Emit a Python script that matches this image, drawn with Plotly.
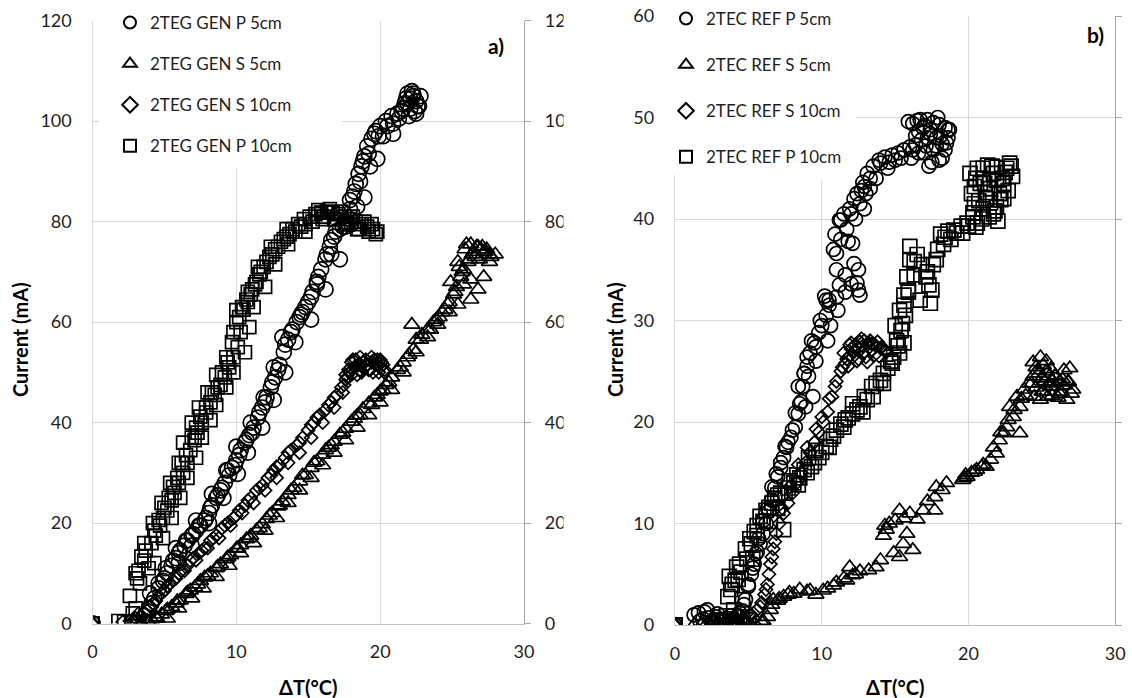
import plotly.graph_objects as go

# ---------- panel a) : 2TEG GEN ----------
a_p5_x = [0, 0, 3.2, 3.6, 3.9, 4.3, 4.6, 4.9, 5.2, 5.5, 5.8, 6.1, 6.4, 6.6, 6.9, 7.2, 7.5, 7.8, 8.1, 8.3,
          8.6, 8.9, 9.2, 9.5, 9.7, 10.0, 10.3, 10.6, 10.9, 11.2, 11.5, 11.8, 12.1, 12.4, 12.7, 13.0, 13.3,
          13.6, 13.9, 14.2, 14.6, 15.0, 15.3, 15.6, 15.9, 16.2, 16.5, 16.8, 17.2, 17.6, 17.9, 18.1, 18.3,
          18.5, 18.7, 18.9, 19.1, 19.4, 19.7, 20.0, 20.4, 20.8, 21.2, 21.6, 21.9, 22.1, 22.3, 22.5, 22.2,
          21.8, 22.6, 22.4, 22.0, 21.7,
          22.3, 21.9, 22.7, 22.5, 21.5, 22.8, 22.1, 21.3, 20.9, 20.5, 19.9, 19.6, 19.2, 18.8, 18.6, 18.2,
          17.9, 17.4, 16.9, 16.6, 16.3, 15.7, 15.2, 14.8, 14.4, 13.8, 13.4, 12.9, 12.5, 12.0, 11.6, 11.1,
          10.7, 10.2, 9.9, 9.4, 9.0, 8.7, 8.2, 7.9, 7.4, 7.0, 6.5, 6.0, 5.6, 5.1, 4.6, 4.1,
          4.0, 5.0, 6.0, 5.8, 6.9, 7.2, 8.1, 8.3, 9.1, 9.3, 10.1, 10.0, 10.8, 11.0, 11.8, 11.9, 12.6,
          12.6, 13.4, 13.2, 14.1, 14.5, 15.2, 15.6, 16.2, 16.6, 17.2, 17.6, 18.0, 18.4, 18.9, 19.3,
          19.8, 20.2, 20.9]
a_p5_y = [0, 0, 0.3, 1.5, 3, 5, 7, 8.5, 10, 11.5, 13, 14.5, 15.5, 16.5, 17.5, 18.5, 19.5, 20.5, 22, 23.5,
          25, 26.5, 28, 29.5, 31, 32.5, 34.5, 36, 37.5, 39, 41, 43, 45, 47, 49, 51.5, 54,
          56.5, 58.5, 60, 62, 64, 66, 68, 70.5, 72.5, 75, 77, 78.5, 80, 82.5, 85, 87.5,
          89.5, 91, 93, 95, 96.5, 98, 99, 100, 101, 101.5, 102.5, 103.5, 104.5, 105.5, 104, 106,
          104.5, 103, 102, 101, 103.5,
          105, 105.5, 103, 101.5, 102, 105, 102.5, 100.5, 99.5, 99, 97, 97.5, 93.5, 92, 88, 86,
          84.3, 79, 78, 76.3, 73.5, 69, 65, 63, 61, 58, 55.5, 50.5, 48, 44, 42, 38,
          36.5, 33.5, 31.5, 30.5, 27, 25.5, 23, 21, 19.5, 17.8, 16.5, 14, 12.5, 11, 8, 4,
          6, 9, 12, 15, 15.5, 20.5, 20, 25.8, 25, 30.5, 29.8, 35.2, 34, 40, 39, 45, 44.5,
          51, 50, 57, 56, 61.5, 60.5, 67.5, 66.5, 73.5, 72.5, 79, 79.5, 83, 84.8, 91,
          92.5, 97, 97.5]

a_s5_x = [0, 0, 3.4, 3.8, 4.1, 4.5, 4.8, 5.1, 5.5, 5.8, 6.1, 6.5, 6.8, 7.1, 7.5, 7.8, 8.2, 8.6, 8.9, 9.3,
          9.6, 10.0, 10.3, 10.7, 11.0, 11.4, 11.8, 12.1, 12.5, 12.9, 13.2, 13.6, 14.0, 14.4, 14.8, 15.2,
          15.6, 16.0, 16.4, 16.8, 17.2, 17.6, 18.0, 18.4, 18.8, 19.2, 19.6, 20.0, 20.4, 20.8, 21.2, 21.6,
          22.0, 22.2, 22.5, 22.9, 23.3, 23.7, 24.1, 24.5, 24.8, 25.1, 25.3, 25.6, 25.8, 26.1, 26.4, 26.7,
          27.0, 27.3, 27.6, 25.4, 25.9, 26.3, 26.8, 27.2, 25.7, 26.2, 24.9,
          26.0, 26.5, 26.9, 27.4, 25.5, 25.2, 26.6, 27.1, 27.7, 26.3, 25.8, 24.7, 24.3, 23.9, 23.5, 22.8,
          22.3, 21.9, 21.4, 20.6, 20.2, 19.8, 19.4, 18.6, 18.2, 17.4, 16.6, 16.2, 15.4, 14.6, 13.8, 13.0,
          12.3, 11.6, 10.9, 10.1, 9.4, 8.7, 8.0, 7.3, 6.6, 5.9, 5.2, 4.4, 3.9,
          5.2, 6.0, 6.9, 7.7, 8.6, 9.5, 10.3, 11.2, 12.0, 12.8, 13.6, 14.4, 15.2, 16.0, 16.8, 17.6,
          18.4, 19.2, 20.0, 20.8, 21.6, 22.5, 23.3, 24.0, 24.8, 25.4, 26.3, 26.8, 27.2, 27.6, 28.0]
a_s5_y = [0, 0, 0, 0.5, 0.8, 1, 1.8, 2.5, 3.3, 4, 4.6, 5.9, 6.6, 7.2, 8.5, 9.2, 10, 11, 11.8, 12.8,
          13.6, 14.9, 15.6, 16.8, 17.5, 18.6, 19.8, 20.8, 22, 23.3, 24.3, 25.6, 27, 28.3, 29.6, 31,
          32.3, 33.6, 35, 36.2, 37.6, 38.8, 40.2, 41.4, 42.7, 43.8, 45, 46.2, 47.5, 49, 50.5, 52,
          53.5, 59.5, 56.5, 57.5, 58.5, 60, 61, 62.5, 64, 65.5, 67, 69, 70.5, 72, 73.5, 75,
          74.5, 74, 73.5, 72, 74.5, 75.5, 75, 74, 70, 72.5, 68,
          75.5, 74, 72.5, 74.5, 71, 66, 73, 75, 73, 68.5, 67.5, 63.5, 62, 60.5, 58.5, 56.5,
          54.5, 53, 51, 48, 46.5, 45.5, 43.5, 41.5, 40.8, 38, 35.5, 34.5, 32, 29.5, 26.5, 23.5,
          21.5, 19, 17, 15, 13.2, 11.3, 9.5, 7.8, 6.2, 4.5, 2.8, 1.2, 0.3,
          1, 3, 5, 7, 9.3, 11.5, 14, 16, 18.5, 21, 24, 26.5, 29, 31.5, 34, 36.5,
          39, 41.5, 44, 46.5, 50, 54, 57, 59.5, 62, 63.5, 64.5, 66.5, 69, 72, 73.5]

a_s10_x = [0, 0, 2.1, 2.6, 3.0, 3.4, 3.8, 4.2, 4.6, 5.0, 5.4, 5.8, 6.2, 6.6, 7.0, 7.4, 7.8, 8.2, 8.6, 9.0,
           9.4, 9.8, 10.2, 10.6, 11.0, 11.4, 11.8, 12.2, 12.6, 13.0, 13.4, 13.8, 14.2, 14.6, 15.0, 15.4,
           15.8, 16.2, 16.6, 17.0, 17.3, 17.6, 17.9, 18.2, 18.5, 18.8, 19.1, 19.4, 19.7, 20.0, 20.3,
           17.8, 18.3, 18.7, 19.2, 19.6, 20.1, 18.0, 18.9, 19.5,
           18.1, 18.6, 19.0, 19.3, 19.8, 20.2, 17.6, 18.4, 19.9, 17.5, 16.8, 16.4, 15.6, 15.2, 14.4,
           13.6, 12.8, 12.4, 11.6, 10.8, 10.0, 9.2, 8.4, 7.6, 6.8, 6.0, 5.2, 4.4, 3.6, 2.8,
           3.2, 4.0, 4.8, 5.6, 6.4, 7.2, 8.0, 8.8, 9.6, 10.4, 11.2, 12.0, 12.8, 13.6, 14.4, 15.2,
           16.0, 16.8, 17.4, 17.7, 18.0, 18.6, 19.4, 20.0, 20.3]
a_s10_y = [0, 0, 0.3, 0.5, 1, 1.5, 2.5, 4, 5.5, 6.5, 8, 9, 10.5, 11.5, 13, 14, 15, 16.5, 17.5, 19,
           20, 21, 22.5, 23.5, 25, 26.5, 27.5, 29, 30.5, 31.5, 33, 34.5, 35.5, 37, 38.5, 40,
           41.5, 42.5, 44, 45.5, 47, 48.5, 50, 51, 51.5, 52, 51.5, 52, 51.5, 51, 50.5,
           50.5, 52.5, 50, 50.5, 52.5, 52, 49.5, 51, 50,
           52.5, 50.5, 52.5, 50.5, 52.5, 51.5, 49.5, 49.5, 50, 47.5, 45, 43.5, 41, 39.5, 36,
           34, 31.2, 29.5, 27, 24.5, 21.5, 19.5, 17, 14.5, 12.5, 10, 7.5, 4.5, 2, 0.5,
           2, 3.5, 6, 8.5, 10.5, 12.6, 15, 17, 19.5, 22, 24, 26.5, 29, 32, 34, 37,
           40, 43, 46, 49, 52, 53, 53, 52.5, 50]

a_p10_x = [0, 0, 1.8, 2.7, 2.6, 3.0, 3.3, 3.2, 3.6, 3.9, 3.7, 4.1, 4.4, 4.7, 4.9, 5.2, 5.5, 5.7, 6.0, 6.3,
           6.6, 6.8, 7.1, 7.3, 7.6, 7.9, 8.2, 8.5, 8.9, 9.2, 9.5, 9.8, 10.1, 10.3, 10.2, 10.5, 10.8,
           11.0, 11.3, 11.6, 11.9, 12.3, 12.7, 13.1, 13.5, 13.9, 14.3, 14.7, 15.1, 15.5, 15.9, 16.3,
           16.7, 17.1, 17.5, 17.9, 18.3, 18.7, 19.1, 19.5, 19.8, 15.3, 16.0, 16.8, 17.6, 18.4, 19.2, 14.8,
           15.7, 16.1, 16.5, 16.9, 17.3, 17.7, 18.1, 18.5, 18.9, 19.4, 19.7, 14.5, 14.1, 13.7, 13.3,
           12.9, 12.5, 12.1, 11.7, 11.4, 11.1, 10.7, 10.4, 10.0, 9.7, 9.4, 9.0, 8.7, 8.3, 7.9,
           7.5, 7.2, 6.9, 6.5, 6.2, 5.9, 5.6, 5.3, 5.0, 4.6, 4.3, 3.4, 3.1, 2.8, 2.2,
           3.0, 4.3, 3.6, 4.9, 4.2, 5.5, 4.8, 6.1, 5.4, 6.6, 6.0, 7.2, 6.3, 7.6, 6.9, 8.2, 7.4, 8.6,
           8.0, 9.3, 8.6, 9.8, 9.3, 10.6, 9.8, 10.9, 10.0, 11.2, 10.8, 12.0, 11.5, 12.7, 12.4, 13.6,
           13.5, 14.8]
a_p10_y = [0, 0, 0.5, 0.3, 5.5, 3, 8, 10.5, 12.5, 11, 14.5, 16, 17.5, 19.5, 21, 22.5, 24.5, 26, 28, 30,
           32, 34.5, 36.5, 38, 40, 42, 44, 45.5, 47.5, 49, 51, 53, 55, 58, 61, 62.5, 64,
           65.5, 67.5, 69.5, 71, 73, 74.5, 76, 77, 78.5, 79.5, 80.5, 81, 81.5, 81.8, 82,
           81.8, 81.5, 81, 80.5, 80, 79.5, 79, 78.5, 78, 80, 80.5, 80.5, 79.5, 78.5, 78, 79.5,
           82.3, 81, 82.5, 80.5, 82, 79.5, 81, 78.5, 80, 79.5, 77.5, 79, 78, 77.5, 76.5,
           75, 73.5, 72, 70, 68, 66.5, 64.5, 63, 60, 56, 52, 50, 47, 46, 43,
           41.2, 39, 37, 33.5, 31.9, 29, 27.2, 25, 23, 20.6, 18.5, 13.3, 9, 2, 0.4,
           10, 12, 16, 17, 20, 21, 24, 25, 28, 29, 32, 33, 36, 37, 40, 40.5, 43, 43.5,
           46, 47, 49.5, 50, 53, 54, 58, 59, 62.4, 63, 66, 67, 71, 71.5, 75, 75.5,
           78.5, 78]

# ---------- panel b) : 2TEC REF ----------
b_p5_x = [0, 0, 1.3, 1.6, 1.9, 2.2, 2.5, 2.8, 3.1, 3.4, 3.7, 4.0, 4.3, 4.6, 4.8, 5.0, 5.2, 5.4, 5.6, 5.8,
          6.0, 6.2, 6.4, 6.6, 6.8, 7.0, 7.2, 7.4, 7.6, 7.9, 8.2, 8.4, 8.6, 8.7, 8.8, 9.0, 9.2, 9.5, 9.8,
          10.0, 10.3, 10.5, 10.3, 11.0, 11.2, 11.6, 12.0, 12.4, 12.5, 12.2, 11.0, 11.0, 11.3, 12.1, 11.3,
          11.7, 12.3, 12.6, 12.4, 13.0, 12.8, 13.1, 13.5, 13.9, 14.3, 14.8, 15.2, 15.6, 16.0, 16.4, 16.8,
          17.2, 16.2, 16.7, 17.2, 17.6, 18.0, 18.4, 18.6, 18.4, 18.0, 17.5, 17.0, 17.8, 16.6, 17.4, 15.9, 18.7,
          17.0, 17.4, 17.8, 18.2, 16.4, 16.9, 17.6, 18.5, 15.6, 16.1, 17.1, 18.1, 16.6, 14.6, 14.0,
          13.3, 12.9, 12.7, 12.2, 11.9, 11.5, 11.2, 10.8, 10.5, 10.2, 9.9, 9.6, 9.3, 9.0, 8.8,
          8.5, 8.2, 8.0, 7.7, 7.5, 7.2, 6.9, 6.6, 6.3, 6.0, 5.7, 5.5, 5.3, 5.0, 4.7,
          4.4, 4.1, 3.8, 3.5, 3.2, 2.9, 2.6, 2.3, 2.0, 1.7,
          8.9, 9.4, 8.4, 9.1, 9.6, 10.4, 10.6, 11.1, 12.6, 11.6, 12.5, 10.9, 11.8, 12.0, 12.9, 13.3,
          13.7, 14.5, 15.0, 15.4, 16.2, 17.3, 18.2, 18.6, 17.9, 16.5]
b_p5_y = [0, 0, 1.0, 1.2, 0.6, 1.5, 0.3, 0.8, 0, 0.4, 0.2, 0.6, 0.9, 1.4, 2.5, 3.8, 5.0, 6.0, 7.2, 8.0,
          9.0, 10.0, 11.2, 12.3, 13.5, 14.6, 15.5, 16.5, 17.5, 18.5, 19.5, 20.8, 22.0, 23.5, 24.8, 25.5, 26.8, 27.8, 28.8,
          29.5, 30.5, 31.5, 32.0, 32.3, 33.5, 32.8, 33.6, 33.7, 33.0, 35.6, 35.0, 36.6, 38.0, 37.6, 39.9,
          39.0, 40.0, 41.5, 42.5, 42.5, 43.6, 44.5, 45.2, 45.8, 46.1, 46.3, 46.5, 46.8, 47.1, 47.3, 47.8,
          48.0, 49.4, 49.8, 49.8, 49.5, 49.3, 49.0, 48.8, 46.8, 45.8, 45.6, 46.5, 47.2, 48.6, 48.4, 49.6, 48.8,
          49.2, 48.8, 48.0, 47.4, 48.2, 49.0, 46.8, 47.5, 46.8, 46.0, 47.2, 48.2, 46.5, 45.6, 45.5,
          44.0, 43.2, 42.8, 42.0, 41.0, 40.5, 39.9, 37.0, 32.0, 32.4, 30.0, 27.4, 28.0, 26.4, 24.8,
          21.8, 20.9, 19.2, 18.0, 17.6, 16.0, 14.9, 13.6, 11.5, 10.3, 8.5, 7.0, 5.6, 4.0, 2.0,
          1.2, 0.4, 0.9, 0.2, 0.5, 1.1, 0.1, 0.7, 1.3, 0.4,
          21.5, 22.5, 23.5, 24.5, 26, 28, 29.5, 31, 32.5, 34.5, 35, 38.5, 37.8, 40.5, 41, 43,
          44, 45, 45.8, 46, 46.8, 45.2, 46, 48, 50, 49.7]

b_s5_x = [0, 0, 1.3, 1.8, 2.4, 3.0, 3.6, 4.2, 4.8, 5.4, 5.9, 6.3, 6.5, 6.7, 7.0, 7.4, 7.8, 8.1, 9.2, 9.6,
          10.1, 10.8, 11.0, 11.5, 11.7, 11.9, 12.3, 12.6, 13.7, 14.0, 14.2, 14.4, 14.6, 14.9, 15.3, 15.55,
          15.3, 15.6, 16.0, 15.8, 16.2, 16.9, 17.7, 17.8, 17.7, 18.5, 19.6, 19.9, 20.2, 20.55, 20.9, 21.2,
          21.5, 21.9, 22.1, 22.4, 22.6, 22.8, 23.05, 23.5, 23.5, 23.3, 23.8, 24.1, 24.4, 24.6, 24.9, 25.1,
          25.3, 25.5, 25.7, 26.0, 26.3, 26.5, 26.8, 27.1, 26.7, 25.0, 24.5, 25.4, 25.9, 25.2, 24.8, 26.2,
          25.6, 24.3,
          24.4, 24.7, 25.0, 25.3, 25.6, 25.9, 26.2, 26.5, 26.8, 27.0, 24.6, 25.1, 25.7, 26.4, 26.9,
          24.9, 25.5, 26.1, 23.9, 23.6, 23.1, 22.7, 22.2, 21.7, 21.0, 20.4, 19.8, 19.7, 18.2, 17.2,
          16.5, 15.0, 14.3, 13.2, 12.1, 10.4, 9.0, 8.5, 7.7, 7.1, 6.6, 6.0, 5.1, 4.5, 3.3, 2.1]
b_s5_y = [0, 0, 0, 0, 0, 0.1, 0, 0.1, 0, 0.2, 0.3, 0.8, 1.5, 2.5, 2.4, 2.8, 3.2, 3.1, 3.4, 3.0,
          3.4, 3.9, 4.2, 4.6, 4.4, 5.7, 5.0, 5.3, 5.7, 6.4, 8.8, 9.4, 10.0, 7.1, 6.7, 8.0,
          11.3, 10.5, 11.0, 9.0, 7.4, 11.3, 11.3, 13.6, 12.6, 14.0, 14.3, 14.6, 15.0, 15.3, 15.6, 15.6,
          16.3, 16.9, 18.2, 18.9, 19.5, 21.5, 20.5, 18.9, 21.5, 22.5, 23.2, 23.8, 24.5, 25.4, 26.4, 25.6,
          25.0, 24.5, 24.0, 23.5, 23.0, 25.1, 24.0, 23.2, 22.2, 23.0, 22.5, 22.5, 24.5, 24.0, 24.8, 22.8,
          23.5, 23.8,
          25.9, 25.1, 24.3, 26.0, 25.2, 24.6, 24.0, 23.6, 23.9, 22.8, 23.4, 23.0, 22.6, 24.2, 25.3,
          22.2, 23.8, 22.4, 22.6, 22.3, 21.2, 20.2, 19.0, 17.5, 15.8, 15.1, 14.8, 14.5, 13.3, 12.2,
          10.4, 10.3, 9.8, 5.4, 4.9, 3.6, 3.3, 3.5, 3.0, 2.6, 2.0, 0.4, 0.1, 0, 0.1, 0]

b_s10_x = [0, 0, 2.5, 3.2, 4.0, 4.6, 5.2, 5.6, 5.9, 6.1, 6.3, 6.4, 6.5, 6.7, 6.9, 7.1, 7.4, 7.7, 8.0, 8.3,
           8.6, 8.9, 9.2, 9.5, 9.8, 10.1, 10.4, 10.7, 11.0, 11.3, 11.6, 11.9, 12.2, 12.5, 12.8, 13.1,
           13.4, 13.7, 14.0, 14.3, 11.8, 12.4, 13.0, 13.6, 12.0, 12.7, 13.3, 13.9, 11.5,
           11.4, 11.7, 12.0, 12.3, 12.6, 12.9, 13.2, 13.5, 13.8, 14.1, 14.4, 12.1, 12.8, 13.4, 11.9,
           12.5, 13.1, 10.9, 10.5, 10.0, 9.6, 9.0, 8.4, 7.8, 7.3, 6.8, 6.6, 6.2, 5.8, 5.4, 4.9, 4.3, 3.6]
b_s10_y = [0, 0, 0, 0, 0.2, 0.5, 1, 1.5, 2.2, 3, 4, 5, 6, 7.5, 9, 10, 11, 12, 13, 14,
           15, 16, 17, 18, 19, 20, 21, 22.5, 24, 25, 25.8, 26.5, 27, 27.3, 27.5, 27.6,
           27.7, 27.5, 27.3, 27.0, 25.5, 26, 26.4, 26.6, 27.8, 28.2, 28.0, 26.5, 26.8,
           25.4, 26.2, 27.2, 27.6, 27.9, 28.0, 27.8, 27.7, 27.9, 27.4, 26.9, 26.4, 26.8, 27.1, 27.6,
           26.2, 25.9, 23.5, 22.3, 20.5, 19.3, 17.5, 15.8, 13.6, 11.5, 8.2, 6.7, 3.5, 1.8, 0.6, 0.3, 0.1, 0.2]

b_p10_x = [0, 0, 2.6, 3.0, 3.4, 3.8, 4.2, 4.6, 5.0, 3.6, 3.7, 4.2, 3.9, 4.4, 4.0, 4.8, 5.1, 5.4, 5.8, 6.2,
           6.6, 7.0, 7.4, 7.7, 8.1, 8.5, 9.0, 9.3, 9.8, 10.3, 10.8, 11.0, 11.3, 11.8, 12.4, 12.9, 13.4,
           14.0, 14.5, 14.9, 15.2, 15.5, 15.3, 15.6, 15.8, 16.0, 16.0, 16.5, 17.1, 17.5, 17.4, 17.8, 18.1,
           18.6, 19.0, 19.5, 19.9, 20.3, 20.6, 21.0, 20.2, 20.5, 21.0, 21.4, 21.5, 21.9, 21.9, 22.3, 22.6,
           22.4, 21.2, 20.8, 21.7, 22.1, 20.4,
           20.1, 20.4, 20.7, 21.0, 21.3, 21.6, 21.9, 22.2, 22.5, 22.8, 23.0, 20.3, 20.9, 21.5, 22.0,
           22.7, 21.1, 21.8, 22.4, 20.0, 19.2, 18.4, 17.9, 17.2, 16.8, 16.3, 15.9, 15.7, 15.4, 15.1,
           14.7, 14.2, 13.7, 13.1, 12.6, 12.1, 11.6, 10.6, 10.0, 9.5, 8.8, 8.3, 7.8, 7.2, 6.8,
           6.4, 6.0, 5.6, 5.2, 4.9, 4.5, 4.1, 3.8, 3.5, 3.2,
           4.3, 4.6, 5.3, 5.6, 6.5, 7.0, 7.5, 8.4, 9.1, 9.6, 10.5, 11.5, 12.1, 12.8, 13.5, 14.2, 14.8,
           15.3, 15.6, 15.0, 15.6, 15.9, 16.3, 16.7, 17.3, 17.6, 18.3, 18.8, 19.6, 20.5, 21.7, 22.9,
           21.3, 20.6]
b_p10_y = [0, 0, 0.2, 0.5, 0.3, 0.6, 0.2, 0.8, 0.5, 2.8, 4.8, 5.7, 4.0, 6.0, 1.5, 7.5, 8.5, 9.2, 10.7, 11.3,
           12.0, 12.8, 9.4, 13.5, 14.0, 14.5, 15.0, 15.6, 16.5, 17.6, 18.6, 19.2, 19.8, 20.4, 21.2, 22.5, 23.5,
           24.1, 25.3, 26.4, 27.5, 29.7, 31.0, 32.5, 34.3, 36.0, 37.3, 36.5, 34.3, 33.0, 31.7, 36.0, 38.5,
           38.8, 38.9, 39.3, 39.6, 40.2, 39.6, 41.0, 42.5, 44.0, 45.0, 40.2, 43.0, 45.1, 41.2, 44.0, 45.0,
           43.5, 42.0, 43.5, 44.5, 42.5, 41.5,
           44.5, 43.2, 41.8, 44.0, 42.6, 45.2, 43.8, 41.9, 44.6, 45.5, 44.2, 40.6, 40.0, 41.6, 39.8,
           42.8, 43.5, 40.8, 42.0, 39.3, 38.6, 38.2, 37.0, 34.8, 35.5, 35.8, 33.0, 30.5, 29.0, 28.0,
           26.0, 24.8, 23.8, 22.2, 21.5, 20.8, 20.2, 18.3, 17.0, 16.0, 15.3, 14.8, 14.2, 13.0, 12.5,
           11.6, 10.2, 9.8, 8.0, 6.5, 5.2, 4.4, 3.5, 0.9, 0.4,
           4.5, 2.5, 6.5, 8.8, 10.2, 11.5, 13, 13.8, 16.5, 17.2, 17.5, 19.5, 21.8, 21.0, 22.5, 23.8, 25.8,
           26.8, 27.8, 29.5, 31.5, 32.8, 34.5, 32.0, 33.5, 35.5, 37.5, 38.0, 38.6, 39.2, 40.5, 45.2,
           45.3, 45.0]

for xs, ys in [(a_p5_x, a_p5_y), (a_s5_x, a_s5_y), (a_s10_x, a_s10_y), (a_p10_x, a_p10_y),
               (b_p5_x, b_p5_y), (b_s5_x, b_s5_y), (b_s10_x, b_s10_y), (b_p10_x, b_p10_y)]:
    assert len(xs) == len(ys)

FONT = "Lato, 'Open Sans', sans-serif"
GRID = "#d9d9d9"
AXLINE = "#a6a6a6"
TXT = "#1f1f1f"

fig = go.Figure()

def add_series(x, y, name, symbol, size, xa, ya, legend, group):
    fig.add_trace(go.Scatter(
        x=x, y=y, mode="markers", name=name,
        xaxis=xa, yaxis=ya, legend=legend, legendgroup=group,
        marker=dict(symbol=symbol, size=size, color="black",
                    line=dict(width=1.7, color="black")),
    ))

add_series(a_p5_x, a_p5_y, "2TEG GEN P 5cm", "circle-open", 15, "x", "y", "legend", "a1")
add_series(a_s5_x, a_s5_y, "2TEG GEN S 5cm", "triangle-up-open", 14, "x", "y", "legend", "a2")
add_series(a_s10_x, a_s10_y, "2TEG GEN S 10cm", "diamond-open", 10, "x", "y", "legend", "a3")
add_series(a_p10_x, a_p10_y, "2TEG GEN P 10cm", "square-open", 13, "x", "y", "legend", "a4")

add_series(b_p5_x, b_p5_y, "2TEC REF P 5cm", "circle-open", 14, "x2", "y2", "legend2", "b1")
add_series(b_s5_x, b_s5_y, "2TEC REF S 5cm", "triangle-up-open", 14, "x2", "y2", "legend2", "b2")
add_series(b_s10_x, b_s10_y, "2TEC REF S 10cm", "diamond-open", 10, "x2", "y2", "legend2", "b3")
add_series(b_p10_x, b_p10_y, "2TEC REF P 10cm", "square-open", 14, "x2", "y2", "legend2", "b4")

W, H = 1132, 698
def px(v):
    return v / W
def py(v):
    return 1 - v / H

dom_a_x = [px(92.5), px(524)]
dom_b_x = [px(675), px(1115.3)]
dom_a_y = [py(623.5), py(20.7)]
dom_b_y = [py(625), py(16)]

tickfont = dict(family=FONT, size=18, color=TXT)

xcommon = dict(range=[0, 30], dtick=10, showgrid=True, gridcolor=GRID, gridwidth=1.3,
               zeroline=False, showline=True, linecolor="#bfbfbf", linewidth=1.3,
               ticks="", tickfont=tickfont, ticklabelstandoff=12, fixedrange=True)
ycommon = dict(showgrid=True, gridcolor=GRID, gridwidth=1.3, zeroline=False,
               showline=True, linecolor=GRID, linewidth=1.3, ticks="",
               tickfont=tickfont, ticklabelstandoff=16, fixedrange=True)
ysecond = dict(side="right", showgrid=False, zeroline=False, showline=True,
               linecolor=AXLINE, linewidth=1.3, ticks="outside", ticklen=6,
               tickcolor=AXLINE, tickwidth=1.3, fixedrange=True)

legend_common = dict(bgcolor="white", borderwidth=0, itemsizing="constant",
                     traceorder="grouped", xanchor="left", yanchor="top",
                     font=dict(family=FONT, size=17, color=TXT))

fig.update_layout(
    width=W, height=H, margin=dict(l=0, r=0, t=0, b=0, autoexpand=False),
    paper_bgcolor="white", plot_bgcolor="white",
    xaxis=dict(domain=dom_a_x, anchor="y", **xcommon),
    yaxis=dict(domain=dom_a_y, anchor="x", range=[0, 120], dtick=20, **ycommon),
    yaxis3=dict(domain=dom_a_y, anchor="x", overlaying="y", range=[0, 120], dtick=20,
                tickfont=tickfont, ticklabelstandoff=10, **ysecond),
    xaxis2=dict(domain=dom_b_x, anchor="y2", **xcommon),
    yaxis2=dict(domain=dom_b_y, anchor="x2", range=[0, 60], dtick=10, **ycommon),
    yaxis4=dict(domain=dom_b_y, anchor="x2", overlaying="y2", range=[0, 60], dtick=10,
                showticklabels=False, **ysecond),
    legend=dict(x=px(110), y=py(5), tracegroupgap=16, **legend_common),
    legend2=dict(x=px(666), y=py(1), tracegroupgap=21, **legend_common),
    showlegend=True,
)

# empty traces so the secondary (right-hand) axes are drawn
fig.add_trace(go.Scatter(x=[], y=[], xaxis="x", yaxis="y3", showlegend=False, hoverinfo="skip"))
fig.add_trace(go.Scatter(x=[], y=[], xaxis="x2", yaxis="y4", showlegend=False, hoverinfo="skip"))

# white legend boxes hiding the gridlines behind the legends
fig.add_shape(type="rect", layer="between", xref="x", yref="y",
              x0=0.45, x1=17.35, y0=90.6, y1=120, fillcolor="white", line_width=0)
fig.add_shape(type="rect", layer="between", xref="x2", yref="y2",
              x0=0.07, x1=12.33, y0=43.8, y1=60, fillcolor="white", line_width=0)
# panel b) sits over the right-hand labels of panel a)
fig.add_shape(type="rect", layer="above", xref="paper", yref="paper",
              x0=px(563.5), x1=px(600), y0=0, y1=1, fillcolor="white", line_width=0)

bold = dict(family=FONT, size=20, color="black", weight="bold")
annos = [
    dict(text="Current (mA)", x=px(20), y=py(340), textangle=-90),
    dict(text="Current (mA)", x=px(615), y=py(340), textangle=-90),
    dict(text="ΔT(°C)", x=px(308), y=py(687)),
    dict(text="ΔT(°C)", x=px(895), y=py(687)),
]
for a in annos:
    fig.add_annotation(xref="paper", yref="paper", showarrow=False,
                       xanchor="center", yanchor="middle", font=bold, **a)
fig.add_annotation(text="a)", xref="paper", yref="paper", x=px(506), y=py(46),
                   xanchor="right", yanchor="middle", showarrow=False,
                   font=dict(family=FONT, size=21, color="black", weight="bold"))
fig.add_annotation(text="b)", xref="paper", yref="paper", x=px(1106), y=py(34),
                   xanchor="right", yanchor="middle", showarrow=False,
                   font=dict(family=FONT, size=21, color="black", weight="bold"))

fig.write_html("out.html")
